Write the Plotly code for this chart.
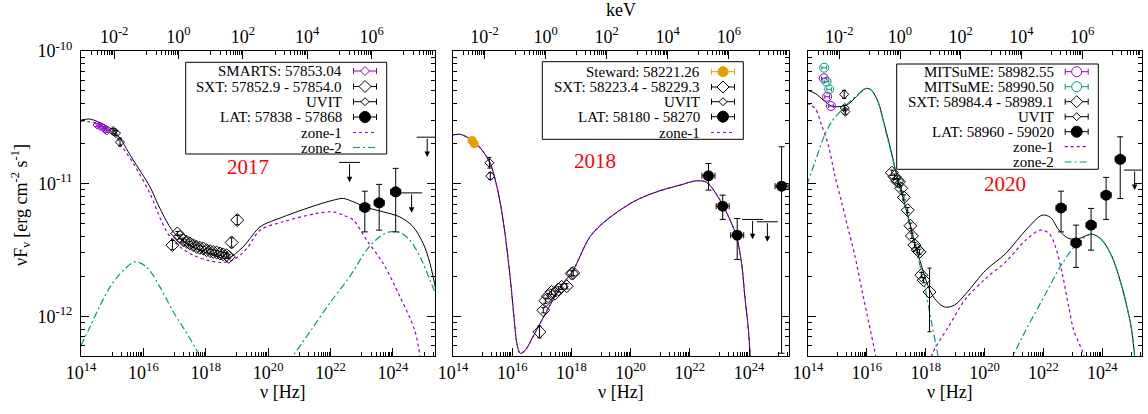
import numpy as np
import plotly.graph_objects as go

# ======================= DATA (log10 values) =======================
# ---------- 2017 ----------
smarts17_lognu = [14.51, 14.61, 14.71, 14.77, 14.83]
smarts17_logf = [-10.558, -10.570, -10.580, -10.593, -10.604]

uvit17_lognu = [15.03, 15.12, 15.25]
uvit17_logf = [-10.604, -10.619, -10.687]
uvit17_err = [0.02, 0.02, 0.03]

sxt17_lognu = [16.93, 17.09, 17.17, 17.28, 17.39, 17.49, 17.60, 17.71, 17.81, 17.92,
               18.03, 18.14, 18.24, 18.35, 18.46, 18.56, 18.67, 18.74, 18.83, 19.01]
sxt17_logf = [-11.464, -11.376, -11.402, -11.426, -11.439, -11.451, -11.464, -11.477,
              -11.484, -11.489, -11.502, -11.509, -11.515, -11.519, -11.527, -11.534,
              -11.540, -11.552, -11.444, -11.275]
sxt17_err = [0.035] + [0.015] * 17 + [0.035, 0.035]

lat17_lognu = [23.10, 23.56, 24.09]
lat17_logf = [-11.180, -11.145, -11.062]
lat17_loghi = [-11.057, -11.006, -10.885]
lat17_loglo = [-11.364, -11.351, -11.364]
lat17_dlognu = [0.16, 0.16, 0.16]

ul17_lognu = [22.61, 24.60, 25.10]
ul17_logf = [-10.84, -11.07, -10.65]

tot17_lognu = [14.00, 14.28, 14.545, 14.865, 15.08, 15.29, 15.51, 15.676, 16.21, 16.53,
               16.96, 17.39, 17.81, 18.24, 18.67, 18.88, 19.20, 19.42, 19.74, 20.48,
               21.55, 22.09, 22.41, 22.73, 23.16, 23.69, 24.22, 24.65, 24.97, 25.19, 25.40]
tot17_logf = [-10.521, -10.513, -10.534, -10.571, -10.609, -10.672, -10.758, -10.823,
              -11.024, -11.187, -11.364, -11.451, -11.502, -11.540, -11.565, -11.540,
              -11.477, -11.414, -11.326, -11.251, -11.162, -11.125, -11.112, -11.137,
              -11.180, -11.213, -11.251, -11.326, -11.451, -11.602, -11.830]

z1_17_lognu = [14.00, 14.50, 15.08, 15.25, 15.68, 16.21, 16.59, 16.85, 17.17, 17.60,
               18.03, 18.46, 18.78, 19.10, 19.36, 19.74, 20.48, 21.55, 22.09, 22.41,
               22.73, 23.16, 23.69, 24.22, 24.70, 24.90]
z1_17_logf = [-10.528, -10.545, -10.625, -10.697, -10.848, -11.074, -11.288, -11.400,
              -11.477, -11.540, -11.577, -11.595, -11.585, -11.540, -11.477, -11.351,
              -11.288, -11.225, -11.213, -11.238, -11.275, -11.426, -11.602, -11.850,
              -12.106, -12.350]

z2_17a_lognu = [14.00, 14.29, 14.61, 14.93, 15.36, 15.73, 16.10, 16.53, 16.96, 17.33, 17.76, 17.85]
z2_17a_logf = [-12.22, -12.08, -11.92, -11.779, -11.653, -11.590, -11.628, -11.779,
               -11.968, -12.106, -12.280, -12.350]
z2_17b_lognu = [20.65, 21.39, 21.98, 22.62, 23.16, 23.58, 23.90, 24.22, 24.54, 24.87, 25.19, 25.40]
z2_17b_logf = [-12.35, -12.10, -11.90, -11.70, -11.50, -11.40, -11.364, -11.368,
               -11.426, -11.552, -11.728, -11.850]

# ---------- 2018 ----------
steward18_lognu = [14.64, 14.72]
steward18_logf = [-10.675, -10.700]

uvit18_lognu = [15.23, 15.26]
uvit18_logf = [-10.843, -10.943]
uvit18_err = [0.04, 0.025]

sxt18_lognu = [16.92, 17.05, 17.12, 17.21, 17.33, 17.45, 17.56, 17.67, 17.84, 18.01, 18.06]
sxt18_logf = [-12.118, -11.955, -11.883, -11.849, -11.817, -11.829, -11.798, -11.779,
              -11.774, -11.678, -11.674]
sxt18_err = [0.045] + [0.02] * 10

lat18_lognu = [22.63, 23.11, 23.60, 25.10]
lat18_logf = [-10.941, -11.170, -11.389, -11.019]
lat18_loghi = [-10.848, -11.087, -11.263, -10.722]
lat18_loglo = [-11.049, -11.270, -11.572, -12.279]
lat18_dlognu = [0.22, 0.22, 0.22, 0.22]

ul18_lognu = [24.12, 24.62]
ul18_logf = [-11.270, -11.288]

tot18_lognu = [13.97, 14.25, 14.64, 14.98, 15.26, 15.43, 15.60, 15.77, 15.94, 16.05,
               16.16, 16.27, 16.44, 16.67, 17.00, 17.34, 17.68, 18.06, 18.63, 19.19,
               20.09, 20.88, 21.67, 22.23, 22.57, 23.02, 23.36, 23.58, 23.75, 23.86,
               23.98, 24.05]
tot18_logf = [-10.634, -10.629, -10.672, -10.747, -10.848, -10.974, -11.149, -11.400,
              -11.728, -11.980, -12.206, -12.280, -12.257, -12.168, -12.030, -11.892,
              -11.766, -11.653, -11.400, -11.275, -11.137, -11.062, -11.011, -10.979,
              -10.991, -11.125, -11.275, -11.400, -11.602, -11.854, -12.106, -12.350]

# ---------- 2020 ----------
mit1_20_lognu = [14.54, 14.65, 14.78]
mit1_20_logf = [-10.206, -10.345, -10.415]
mit2_20_lognu = [14.55, 14.63, 14.72]
mit2_20_logf = [-10.126, -10.232, -10.289]

uvit20_lognu = [15.23, 15.25, 15.27]
uvit20_logf = [-10.327, -10.430, -10.457]
uvit20_err = [0.03, 0.02, 0.02]

sxt20_lognu = [16.85, 16.94, 17.03, 17.09, 17.17, 17.26, 17.39, 17.48, 17.53, 17.62,
               17.73, 17.79, 17.85, 17.93, 18.13]
sxt20_logf = [-10.918, -10.948, -10.981, -10.986, -11.036, -11.104, -11.200, -11.318,
              -11.394, -11.464, -11.502, -11.515, -11.690, -11.728, -11.817]
sxt20_errp = [0.02] * 14 + [0.18]
sxt20_errm = [0.02] * 14 + [0.30]

lat20_lognu = [22.60, 23.11, 23.62, 24.13, 24.61]
lat20_logf = [-11.183, -11.447, -11.313, -11.087, -10.817]
lat20_loghi = [-11.057, -11.313, -11.187, -10.953, -10.647]
lat20_loglo = [-11.364, -11.632, -11.502, -11.270, -11.112]
lat20_dlognu = [0.17, 0.17, 0.17, 0.17, 0.17]

ul20_lognu = [25.10]
ul20_logf = [-10.898]

tot20_lognu = [13.96, 14.24, 14.52, 14.80, 15.02, 15.31, 15.59, 15.82, 15.99, 16.15,
               16.38, 16.60, 16.83, 17.00, 17.17, 17.39, 17.62, 17.85, 18.07, 18.30,
               18.63, 18.97, 19.37, 20.04, 20.72, 21.40, 21.96, 22.24, 22.53, 22.86,
               23.20, 23.65, 23.99, 24.33, 24.67, 24.89, 25.00, 25.12]
tot20_logf = [-10.294, -10.319, -10.370, -10.415, -10.420, -10.408, -10.357, -10.302,
              -10.282, -10.294, -10.383, -10.558, -10.760, -10.923, -11.062, -11.238,
              -11.439, -11.615, -11.766, -11.866, -11.930, -11.917, -11.829, -11.653,
              -11.527, -11.351, -11.238, -11.255, -11.351, -11.414, -11.414, -11.381,
              -11.426, -11.552, -11.779, -11.980, -12.106, -12.350]

z1_20a_lognu = [13.96, 14.24, 14.46, 14.69, 14.91, 15.14, 15.36, 15.59, 15.82, 15.99, 16.33]
z1_20a_logf = [-10.395, -10.432, -10.558, -10.709, -10.936, -11.137, -11.338, -11.540,
               -11.791, -11.968, -12.330]
z1_20b_lognu = [18.15, 18.23, 18.77, 19.37, 20.04, 20.72, 21.40, 21.90, 22.19, 22.41,
                22.64, 22.86, 23.03, 23.35, 23.42]
z1_20b_logf = [-12.35, -12.28, -12.08, -11.866, -11.715, -11.590, -11.426, -11.351,
               -11.376, -11.477, -11.678, -11.930, -12.106, -12.280, -12.350]

z2_20a_lognu = [13.96, 14.24, 14.52, 14.80, 15.14, 15.48, 15.82, 15.99, 16.15, 16.38,
                16.60, 16.83, 17.17, 17.62, 17.96, 18.13, 18.42, 18.46]
z2_20a_logf = [-11.011, -10.835, -10.659, -10.534, -10.445, -10.370, -10.307, -10.282,
               -10.294, -10.383, -10.570, -10.770, -11.070, -11.450, -11.766, -11.968,
               -12.300, -12.350]
z2_20b_lognu = [20.85, 21.40, 22.08, 22.64, 23.20, 23.65, 23.99, 24.33, 24.67, 24.89, 25.00, 25.12]
z2_20b_logf = [-12.35, -12.106, -11.829, -11.602, -11.440, -11.381, -11.426, -11.552,
               -11.779, -11.980, -12.106, -12.350]

# tick labels
x_tick_exp = [14, 16, 18, 20, 22, 24]
top_tick_exp = [-2, 0, 2, 4, 6]
y_tick_exp = [-12, -11, -10]

legend17 = ["SMARTS: 57853.04", "SXT: 57852.9 - 57854.0", "UVIT", "LAT: 57838 - 57868", "zone-1", "zone-2"]
legend18 = ["Steward: 58221.26", "SXT: 58223.4 - 58229.3", "UVIT", "LAT: 58180 - 58270", "zone-1"]
legend20 = ["MITSuME: 58982.55", "MITSuME: 58990.50", "SXT: 58984.4 - 58989.1", "UVIT",
            "LAT: 58960 - 59020", "zone-1", "zone-2"]
year_labels = ["2017", "2018", "2020"]
year_pos_lognu = [19.35, 18.80, 20.68]
year_pos_logf = [-10.878, -10.826, -11.004]

# ======================= STYLE / LAYOUT =======================
FONT = "Liberation Serif"
W, H = 1148, 414
PANELS_PX = [(81, 435), (453, 789), (808, 1142)]
Y_TOP, Y_BOT = 51, 356
XRANGE = [14.0, 25.35]
TOPRANGE = [-3.03, 7.97]
YRANGE = [-12.3, -10.0]
PURPLE, GREEN, ORANGE, RED = "#9400d3", "#009e73", "#e69f00", "#ff0000"
ARROW_DEX = 0.15
Z1_DASH = "3px,3px"
Z2_DASH = "7px,3px,2px,3px"


def P(a):
    return np.power(10.0, np.asarray(a, dtype=float))


fig = go.Figure()
axes = [("x", "y", "x2"), ("x3", "y2", "x4"), ("x5", "y3", "x6")]


def add_line(lognu, logf, ax, color, dash="solid", width=1.0):
    fig.add_trace(go.Scatter(
        x=P(lognu), y=P(logf), mode="lines", xaxis=ax[0], yaxis=ax[1], showlegend=False,
        line=dict(color=color, width=width, dash=dash, shape="spline", smoothing=0.9),
        hoverinfo="skip"))


def add_pts(lognu, logf, ax, marker, color, ey=None, eyp=None, eym=None,
            eyhi=None, eylo=None, ex=None, cap=2):
    x = P(lognu)
    y = P(logf)
    lf = np.asarray(logf, dtype=float)
    tr = dict(x=x, y=y, mode="markers", xaxis=ax[0], yaxis=ax[1], marker=marker,
              showlegend=False, hoverinfo="skip")
    if ey is not None:
        eyp = ey
        eym = ey
    if eyp is not None:
        tr["error_y"] = dict(type="data", symmetric=False,
                             array=P(lf + np.asarray(eyp)) - y,
                             arrayminus=y - P(lf - np.asarray(eym)),
                             color=color, thickness=1, width=cap)
    if eyhi is not None:
        tr["error_y"] = dict(type="data", symmetric=False, array=P(eyhi) - y,
                             arrayminus=y - P(eylo), color=color, thickness=1, width=cap)
    if ex is not None:
        ln = np.asarray(lognu, dtype=float)
        tr["error_x"] = dict(type="data", symmetric=False,
                             array=P(ln + np.asarray(ex)) - x,
                             arrayminus=x - P(ln - np.asarray(ex)),
                             color=color, thickness=1, width=cap)
    fig.add_trace(go.Scatter(**tr))


annotations = []
shapes = []


def add_ul(lognu, logf, ax):
    fig.add_trace(go.Scatter(
        x=P(lognu), y=P(logf), mode="markers", xaxis=ax[0], yaxis=ax[1], showlegend=False,
        marker=dict(symbol="line-ew", size=15, color="black", line=dict(width=1, color="black")),
        hoverinfo="skip"))
    for ln, lf in zip(lognu, logf):
        annotations.append(dict(x=ln, y=lf - ARROW_DEX, ax=ln, ay=lf, xref=ax[0], yref=ax[1],
                                axref=ax[0], ayref=ax[1], text="", showarrow=True,
                                arrowhead=2, arrowsize=1.1, arrowwidth=1, arrowcolor="black",
                                standoff=0, startstandoff=0))


sxt_marker = dict(symbol="diamond-open", size=10, color="black", line=dict(width=1))
uvit_marker = dict(symbol="diamond-open", size=7, color="black", line=dict(width=1))
lat_marker = dict(symbol="circle", size=11, color="black")

# ---------- panel 1 ----------
a = axes[0]
add_line(tot17_lognu, tot17_logf, a, "black")
add_line(z1_17_lognu, z1_17_logf, a, PURPLE, Z1_DASH, 1.2)
add_line(z2_17a_lognu + [None] + z2_17b_lognu, z2_17a_logf + [None] + z2_17b_logf, a, GREEN,
         Z2_DASH, 1.2)
add_pts(smarts17_lognu, smarts17_logf, a,
        dict(symbol="diamond-open", size=6, color=PURPLE, line=dict(width=1)), PURPLE,
        ey=[0.01] * 5)
add_pts(sxt17_lognu, sxt17_logf, a, sxt_marker, "black", ey=sxt17_err)
add_pts(uvit17_lognu, uvit17_logf, a, uvit_marker, "black", ey=uvit17_err)
add_pts(lat17_lognu, lat17_logf, a, lat_marker, "black",
        eyhi=lat17_loghi, eylo=lat17_loglo, ex=lat17_dlognu, cap=3)
add_ul(ul17_lognu, ul17_logf, a)

# ---------- panel 2 ----------
a = axes[1]
add_line(tot18_lognu, tot18_logf, a, "black")
add_line(tot18_lognu, tot18_logf, a, PURPLE, Z1_DASH, 1.2)
add_pts(steward18_lognu, steward18_logf, a, dict(symbol="circle", size=9, color=ORANGE), ORANGE,
        ex=[0.05, 0.05])
add_pts(sxt18_lognu, sxt18_logf, a, sxt_marker, "black", ey=sxt18_err)
add_pts(uvit18_lognu, uvit18_logf, a, uvit_marker, "black", ey=uvit18_err)
add_pts(lat18_lognu, lat18_logf, a, lat_marker, "black",
        eyhi=lat18_loghi, eylo=lat18_loglo, ex=lat18_dlognu, cap=3)
add_ul(ul18_lognu, ul18_logf, a)

# ---------- panel 3 ----------
a = axes[2]
add_line(tot20_lognu, tot20_logf, a, "black")
add_line(z1_20a_lognu + [None] + z1_20b_lognu, z1_20a_logf + [None] + z1_20b_logf, a, PURPLE,
         Z1_DASH, 1.2)
add_line(z2_20a_lognu + [None] + z2_20b_lognu, z2_20a_logf + [None] + z2_20b_logf, a, GREEN,
         Z2_DASH, 1.2)
add_pts(mit1_20_lognu, mit1_20_logf, a,
        dict(symbol="circle-open", size=9, color=PURPLE, line=dict(width=1)), PURPLE,
        ex=[0.08] * 3)
add_pts(mit2_20_lognu, mit2_20_logf, a,
        dict(symbol="circle-open", size=9, color=GREEN, line=dict(width=1)), GREEN,
        ex=[0.08] * 3)
add_pts(sxt20_lognu, sxt20_logf, a, sxt_marker, "black", eyp=sxt20_errp, eym=sxt20_errm)
add_pts(uvit20_lognu, uvit20_logf, a, uvit_marker, "black", ey=uvit20_err)
add_pts(lat20_lognu, lat20_logf, a, lat_marker, "black",
        eyhi=lat20_loghi, eylo=lat20_loglo, ex=lat20_dlognu, cap=3)
add_ul(ul20_lognu, ul20_logf, a)

# dummy traces so top axes are drawn
for a in axes:
    fig.add_trace(go.Scatter(x=[], y=[], xaxis=a[2], yaxis=a[1], showlegend=False))

# ---------- legends (gnuplot style: text right-aligned, sample on the right) ----------
def px(x):
    return x / W


def py(y):
    return (H - y) / H


def seg(x0, y0, x1, y1, color, width=1.0, dash="solid"):
    shapes.append(dict(type="line", xref="paper", yref="paper", x0=px(x0), y0=py(y0),
                       x1=px(x1), y1=py(y1), layer="above",
                       line=dict(color=color, width=width, dash=dash)))


def errbar_sample(cx, cy, color, half=11.5, cap=3):
    seg(cx - half, cy, cx + half, cy, color)
    seg(cx - half, cy - cap, cx - half, cy + cap, color)
    seg(cx + half, cy - cap, cx + half, cy + cap, color)


def diamond_sample(cx, cy, r, color):
    path = (f"M {px(cx - r)},{py(cy)} L {px(cx)},{py(cy - r)} L {px(cx + r)},{py(cy)} "
            f"L {px(cx)},{py(cy + r)} Z")
    shapes.append(dict(type="path", xref="paper", yref="paper", path=path, layer="above",
                       fillcolor="white", line=dict(color=color, width=1)))


def circle_sample(cx, cy, r, color, filled):
    shapes.append(dict(type="circle", xref="paper", yref="paper", x0=px(cx - r), x1=px(cx + r),
                       y0=py(cy + r), y1=py(cy - r), layer="above",
                       fillcolor=color if filled else "white", line=dict(color=color, width=1)))


LEGENDS = [
    dict(box=(185.7, 62.3, 386.7, 154.0), tr=343.5, cx=365.0,
         rows=[71.0, 86.5, 101.7, 117.0, 132.5, 147.5], labels=legend17,
         kinds=[("d", PURPLE, 4.5), ("d", "black", 6), ("d", "black", 4), ("c", "black", 5.5, True),
                ("l", PURPLE, Z1_DASH), ("l", GREEN, Z2_DASH)]),
    dict(box=(542.3, 61.7, 743.3, 139.3), tr=701.7, cx=723.0,
         rows=[71.7, 87.0, 101.7, 116.7, 132.5], labels=legend18,
         kinds=[("c", ORANGE, 5, True), ("d", "black", 6), ("d", "black", 4),
                ("c", "black", 5.5, True), ("l", PURPLE, Z1_DASH)]),
    dict(box=(896.7, 64.0, 1098.3, 169.3), tr=1056.0, cx=1076.7,
         rows=[71.7, 86.7, 101.7, 116.7, 131.7, 146.7, 162.0], labels=legend20,
         kinds=[("c", PURPLE, 5, False), ("c", GREEN, 5, False), ("d", "black", 6),
                ("d", "black", 4), ("c", "black", 5.5, True), ("l", PURPLE, Z1_DASH),
                ("l", GREEN, Z2_DASH)]),
]

for L in LEGENDS:
    x0, y0, x1, y1 = L["box"]
    shapes.append(dict(type="rect", xref="paper", yref="paper", x0=px(x0), x1=px(x1),
                       y0=py(y1), y1=py(y0), layer="above", fillcolor="white",
                       line=dict(color="black", width=1)))
    for lab, ry, kind in zip(L["labels"], L["rows"], L["kinds"]):
        annotations.append(dict(x=px(L["tr"]), y=py(ry), xref="paper", yref="paper",
                                text=lab, showarrow=False, xanchor="right", yanchor="middle",
                                font=dict(family=FONT, size=15, color="black")))
        cx = L["cx"]
        if kind[0] == "l":
            seg(cx - 12, ry, cx + 12, ry, kind[1], 1.2, kind[2])
        else:
            errbar_sample(cx, ry, kind[1])
            if kind[0] == "d":
                diamond_sample(cx, ry, kind[2], kind[1])
            else:
                circle_sample(cx, ry, kind[2], kind[1], kind[3])

# ---------- axes ----------
tickfont = dict(family=FONT, size=18, color="black")


def minor_vals(decades, ks, lo, hi):
    out = []
    for d in decades:
        for k in ks:
            v = k * 10.0 ** d
            if 10 ** lo <= v <= 10 ** hi:
                out.append(v)
    return out


xminor = minor_vals(range(15, 27, 2), range(1, 10), *XRANGE)
tminor = minor_vals(range(-3, 9, 2), range(1, 10), *TOPRANGE)
yminor = minor_vals(range(-13, -9), range(2, 10), *YRANGE)

layout_axes = {}
for i, (xa, ya, ta) in enumerate(axes):
    x0, x1 = PANELS_PX[i]
    dom = [x0 / W, x1 / W]
    xn = "xaxis" if xa == "x" else "xaxis" + xa[1:]
    tn = "xaxis" + ta[1:]
    yn = "yaxis" if ya == "y" else "yaxis" + ya[1:]
    common = dict(type="log", showgrid=False, zeroline=False, showline=True, linecolor="black",
                  linewidth=1, ticks="inside", ticklen=8, tickwidth=1, tickcolor="black",
                  tickfont=tickfont, tickmode="array", automargin=False, fixedrange=True)
    mn = dict(tickmode="array", ticks="inside", ticklen=4, tickwidth=1, tickcolor="black",
              showgrid=False)
    layout_axes[xn] = dict(common, domain=dom, range=XRANGE, anchor=ya,
                           tickvals=[10.0 ** e for e in x_tick_exp],
                           ticktext=[f"10<sup>{e}</sup>" for e in x_tick_exp],
                           minor=dict(mn, tickvals=xminor))
    layout_axes[tn] = dict(common, domain=dom, range=TOPRANGE, anchor=ya, overlaying=xa,
                           side="top", tickvals=[10.0 ** e for e in top_tick_exp],
                           ticktext=[f"10<sup>{e}</sup>" for e in top_tick_exp],
                           minor=dict(mn, tickvals=tminor))
    layout_axes[yn] = dict(common, domain=[(H - Y_BOT) / H, (H - Y_TOP) / H], range=YRANGE,
                           anchor=xa, mirror="ticks", showticklabels=(i == 0),
                           ticklabelstandoff=4,
                           tickvals=[10.0 ** e for e in y_tick_exp],
                           ticktext=[f"10<sup>{e}</sup>" for e in y_tick_exp],
                           minor=dict(mn, tickvals=yminor))

# year labels
for i, a in enumerate(axes):
    annotations.append(dict(x=year_pos_lognu[i], y=year_pos_logf[i], xref=a[0], yref=a[1],
                            text=year_labels[i], showarrow=False,
                            font=dict(family=FONT, size=21, color=RED)))

# axis titles
for i in range(3):
    x0, x1 = PANELS_PX[i]
    annotations.append(dict(x=(x0 + x1) / 2 / W, y=py(392), xref="paper", yref="paper",
                            text="ν [Hz]", showarrow=False, yanchor="middle",
                            font=dict(family=FONT, size=18, color="black")))
annotations.append(dict(x=(PANELS_PX[1][0] + PANELS_PX[1][1]) / 2 / W, y=py(10),
                        xref="paper", yref="paper", text="keV", showarrow=False,
                        yanchor="middle", font=dict(family=FONT, size=18, color="black")))
annotations.append(dict(x=px(20), y=py(205), xref="paper", yref="paper",
                        text="νF<sub>ν</sub> [erg cm<sup>-2</sup> s<sup>-1</sup>]",
                        showarrow=False, textangle=-90, xanchor="center", yanchor="middle",
                        font=dict(family=FONT, size=18, color="black")))

fig.update_layout(
    template="none",
    width=W, height=H, autosize=False, margin=dict(l=0, r=0, t=0, b=0, autoexpand=False),
    paper_bgcolor="white", plot_bgcolor="white",
    font=dict(family=FONT, color="black"),
    showlegend=False,
    annotations=annotations,
    shapes=shapes,
    **layout_axes,
)

fig.write_html("out.html", config={"displayModeBar": False},
               post_script="document.body.style.margin='0px';")
